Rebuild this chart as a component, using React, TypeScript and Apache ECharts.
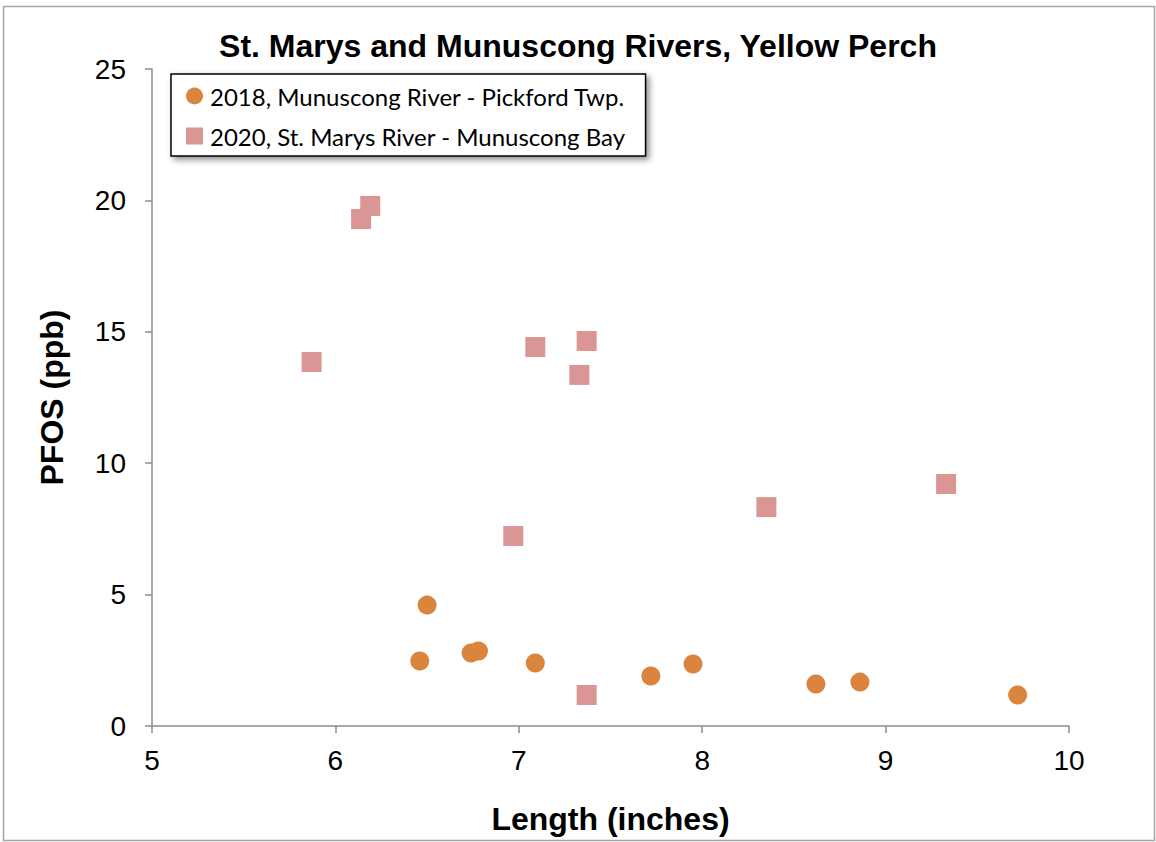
import React, { useEffect, useRef } from "react";
import * as echarts from "echarts";

const titleText = "St. Marys and Munuscong Rivers, Yellow Perch";
const xAxisName = "Length (inches)";
const yAxisName = "PFOS (ppb)";

const series2018Name = "2018, Munuscong River - Pickford Twp.";
const series2018Length = [6.50, 6.46, 6.74, 6.78, 7.09, 7.72, 7.95, 8.62, 8.86, 9.72];
const series2018Pfos = [4.60, 2.47, 2.78, 2.85, 2.40, 1.90, 2.36, 1.60, 1.67, 1.18];

const series2020Name = "2020, St. Marys River - Munuscong Bay";
const series2020Length = [5.87, 6.14, 6.19, 7.09, 7.37, 7.33, 6.97, 8.35, 9.33, 7.37];
const series2020Pfos = [13.85, 19.29, 19.79, 14.42, 14.65, 13.36, 7.23, 8.33, 9.21, 1.18];

const pair = (xs: number[], ys: number[]) => xs.map((x, i) => [x, ys[i]]);

export default function App() {
  const ref = useRef<HTMLDivElement>(null);
  useEffect(() => {
    if (!ref.current) return;
    const chart = echarts.init(ref.current, null, { renderer: "svg" });
    const axisColor = "#8c8c8c";
    const boldText = {
      fontFamily: "Liberation Sans",
      fontSize: 32,
      fontWeight: "bold",
      color: "#000",
    };
    chart.setOption({
      animation: false,
      backgroundColor: "#ffffff",
      title: {
        text: titleText,
        left: "center",
        top: 25,
        textStyle: boldText,
      },
      graphic: [
        {
          type: "rect",
          shape: { x: 3.5, y: 6.5, width: 1151, height: 834 },
          style: { fill: "none", stroke: "#a6a6a6", lineWidth: 1.5 },
          silent: true,
          z: -1,
        },
      ],
      legend: {
        orient: "vertical",
        left: 171,
        top: 74,
        padding: [10, 20, 8, 15],
        itemGap: 16,
        itemWidth: 17,
        itemHeight: 17,
        backgroundColor: "#ffffff",
        borderColor: "#000000",
        borderWidth: 1.5,
        shadowBlur: 6,
        shadowColor: "rgba(0,0,0,0.45)",
        shadowOffsetX: 3,
        shadowOffsetY: 3,
        textStyle: {
          fontFamily: "Lato",
          fontSize: 24,
          color: "#000",
          padding: [0, 0, 0, 2],
        },
        data: [
          { name: series2018Name, icon: "circle" },
          { name: series2020Name, icon: "rect" },
        ],
      },
      grid: { left: 152, right: 87, top: 69, bottom: 116 },
      xAxis: {
        type: "value",
        min: 5,
        max: 10,
        interval: 1,
        name: xAxisName,
        nameLocation: "middle",
        nameGap: 77,
        nameTextStyle: boldText,
        splitLine: { show: false },
        axisLine: { show: true, lineStyle: { color: axisColor, width: 1.5 } },
        axisTick: { show: true, length: 7, lineStyle: { color: axisColor, width: 1.5 } },
        axisLabel: {
          margin: 20,
          fontFamily: "Liberation Sans",
          fontSize: 28,
          color: "#000",
        },
      },
      yAxis: {
        type: "value",
        min: 0,
        max: 25,
        interval: 5,
        name: yAxisName,
        nameLocation: "middle",
        nameGap: 84,
        nameTextStyle: boldText,
        splitLine: { show: false },
        axisLine: { show: true, lineStyle: { color: axisColor, width: 1.5 } },
        axisTick: { show: true, length: 7, lineStyle: { color: axisColor, width: 1.5 } },
        axisLabel: {
          margin: 26,
          fontFamily: "Liberation Sans",
          fontSize: 28,
          color: "#000",
        },
      },
      series: [
        {
          name: series2018Name,
          type: "scatter",
          symbol: "circle",
          symbolSize: 19,
          itemStyle: { color: "#db843d", opacity: 1 },
          data: pair(series2018Length, series2018Pfos),
        },
        {
          name: series2020Name,
          type: "scatter",
          symbol: "rect",
          symbolSize: 20,
          itemStyle: { color: "#da9694", opacity: 1 },
          data: pair(series2020Length, series2020Pfos),
        },
      ],
    });
    return () => chart.dispose();
  }, []);
  return (
    <div
      ref={ref}
      style={{ position: "absolute", left: 0, top: 0, width: 1156, height: 842 }}
    />
  );
}
